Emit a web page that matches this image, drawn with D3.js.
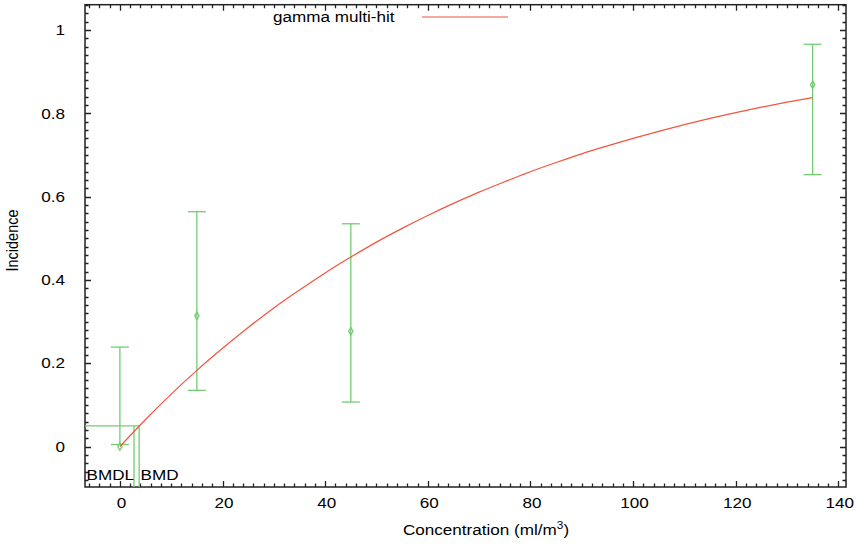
<!DOCTYPE html>
<html>
<head>
<meta charset="utf-8">
<script src="https://cdn.jsdelivr.net/npm/d3@7"></script>
<style>
  html, body { margin: 0; padding: 0; background: #fff; }
  svg { display: block; font-family: "Liberation Sans", Arial, sans-serif; }
</style>
</head>
<body>
<svg id="chart" width="856" height="548"></svg>
<script>
// ---- data ----
const doses = [0, 15, 45, 135];
const incidence = [0.0, 0.314, 0.277, 0.869];
const lowerCI = [0.005, 0.135, 0.107, 0.653];
const upperCI = [0.239, 0.564, 0.535, 0.966];

const curveDose = [0, 5, 10, 15, 20, 25, 30, 35, 40, 45, 50, 55, 60, 65, 70, 75, 80, 85, 90, 95, 100, 105, 110, 115, 120, 125, 130, 135];
const curveResp = [0, 0.065, 0.126, 0.183, 0.236, 0.286, 0.333, 0.376, 0.417, 0.455, 0.491, 0.524, 0.555, 0.584, 0.611, 0.636, 0.660, 0.682, 0.703, 0.722, 0.740, 0.757, 0.773, 0.788, 0.802, 0.815, 0.827, 0.838];

const bmr = 0.05;
const bmd = 3.75;
const bmdl = 2.75;

const xTicks = [0, 20, 40, 60, 80, 100, 120, 140];
const yTicks = [0, 0.2, 0.4, 0.6, 0.8, 1];
const yTickLabels = ["0", "0.2", "0.4", "0.6", "0.8", "1"];
const seriesName = "gamma multi-hit";
const xTitle = "Concentration (ml/m";
const yTitle = "Incidence";

// ---- layout ----
const svg = d3.select("#chart");
const L = 85, R = 846, T = 4.7, B = 487;
const x = d3.scaleLinear().domain([-6.8, 141.5]).range([L, R]);
const y = d3.scaleLinear().domain([-0.097, 1.061]).range([B, T]);
const green = "#72cc72";
const red = "#f2553f";
const SX = 1.18; // horizontal text stretch
const FS = 14.5;

const xMinor = d3.range(-6, 142, 2).filter(v => v % 20 !== 0);
const yMinor = d3.range(-8, 107, 2).filter(v => v % 20 !== 0).map(v => v / 100);

function styleAxis(g) {
  g.select(".domain").remove();
  g.selectAll(".tick line").remove();
  g.selectAll("text").attr("font-size", FS).attr("fill", "#000").attr("font-family", "Liberation Sans, Arial, sans-serif");
}

// axis labels via d3 axes
const gB = svg.append("g").attr("transform", `translate(0,${B})`)
  .call(d3.axisBottom(x).tickValues(xTicks).tickSizeInner(0).tickSizeOuter(0).tickPadding(11).tickFormat(d3.format("d")));
styleAxis(gB);
gB.selectAll("text").each(function () {
  const t = d3.select(this);
  const yy = +t.attr("y");
  t.attr("y", 0).attr("transform", `translate(1,${yy}) scale(${SX},1)`);
});
const gL = svg.append("g").attr("transform", `translate(${L},0)`)
  .call(d3.axisLeft(y).tickValues(yTicks).tickSizeInner(0).tickSizeOuter(0).tickPadding(20).tickFormat((d, i) => yTickLabels[i]));
styleAxis(gL);
gL.selectAll("text").each(function () {
  const t = d3.select(this);
  const xx = +t.attr("x");
  t.attr("x", 0).attr("transform", `translate(${xx},0) scale(${SX},1)`);
});

// inward tick marks on all four sides, one path, positioned by the scales
let td = "";
function xTickMarks(vals, len) {
  vals.forEach(v => {
    const px = Math.round(x(v)) + 0.5;
    td += `M${px},${B}V${B - len}M${px},${T}V${T + len}`;
  });
}
function yTickMarks(vals, len) {
  vals.forEach(v => {
    const py = Math.round(y(v)) + 0.5;
    td += `M${L},${py}H${L + len}M${R},${py}H${R - len}`;
  });
}
xTickMarks(xTicks, 6);
xTickMarks(xMinor, 3.5);
yTickMarks(yTicks, 6);
yTickMarks(yMinor, 3.5);
svg.append("path").attr("d", td).attr("fill", "none").attr("stroke", "#222").attr("stroke-width", 1.3);

// frame
svg.append("rect").attr("x", L).attr("y", T).attr("width", R - L).attr("height", B - T)
  .attr("fill", "none").attr("stroke", "#222").attr("stroke-width", 1.5);

// BMD lines
const bmdG = svg.append("g").attr("stroke", green).attr("stroke-width", 1.3).attr("fill", "none");
bmdG.append("line").attr("x1", L).attr("x2", x(bmd)).attr("y1", y(bmr)).attr("y2", y(bmr));
bmdG.append("line").attr("x1", x(bmdl)).attr("x2", x(bmdl)).attr("y1", y(bmr)).attr("y2", B);
bmdG.append("line").attr("x1", x(bmd)).attr("x2", x(bmd)).attr("y1", y(bmr)).attr("y2", B);

// error bars
const eb = svg.append("g").attr("stroke", green).attr("stroke-width", 1.3).attr("fill", "none");
doses.forEach((d, i) => {
  const cx = x(d);
  eb.append("line").attr("x1", cx).attr("x2", cx).attr("y1", y(lowerCI[i])).attr("y2", y(upperCI[i]));
  eb.append("line").attr("x1", cx - 9).attr("x2", cx + 9).attr("y1", y(lowerCI[i])).attr("y2", y(lowerCI[i]));
  eb.append("line").attr("x1", cx - 9).attr("x2", cx + 9).attr("y1", y(upperCI[i])).attr("y2", y(upperCI[i]));
  eb.append("path").attr("d", d3.symbol().type(d3.symbolDiamond).size(16)())
    .attr("transform", `translate(${cx},${y(incidence[i])})`);
});

// fitted curve
svg.append("path")
  .datum(curveDose.map((d, i) => [d, curveResp[i]]))
  .attr("fill", "none").attr("stroke", red).attr("stroke-width", 1.2)
  .attr("d", d3.line().x(d => x(d[0])).y(d => y(d[1])).curve(d3.curveMonotoneX));

// legend
svg.append("text").attr("transform", `translate(273,22) scale(${SX},1)`)
  .attr("font-size", FS).text(seriesName);
svg.append("line").attr("x1", 422).attr("x2", 508).attr("y1", 17).attr("y2", 17)
  .attr("stroke", red).attr("stroke-width", 1.2);

// BMD labels
svg.append("text").attr("transform", `translate(86.5,479.5) scale(${SX},1)`).attr("font-size", FS).text("BMDL");
svg.append("text").attr("transform", `translate(140.5,479.5) scale(${SX},1)`).attr("font-size", FS).text("BMD");

// axis titles
const xt = svg.append("text").attr("transform", `translate(486,535) scale(${SX},1)`)
  .attr("text-anchor", "middle").attr("font-size", FS);
xt.append("tspan").text(xTitle);
xt.append("tspan").attr("font-size", 10).attr("dy", -6).text("3");
xt.append("tspan").attr("dy", 6).text(")");

svg.append("text").attr("transform", `translate(18,240.5) rotate(-90) scale(1,${SX})`)
  .attr("text-anchor", "middle").attr("font-size", FS).text(yTitle);
</script>
</body>
</html>
